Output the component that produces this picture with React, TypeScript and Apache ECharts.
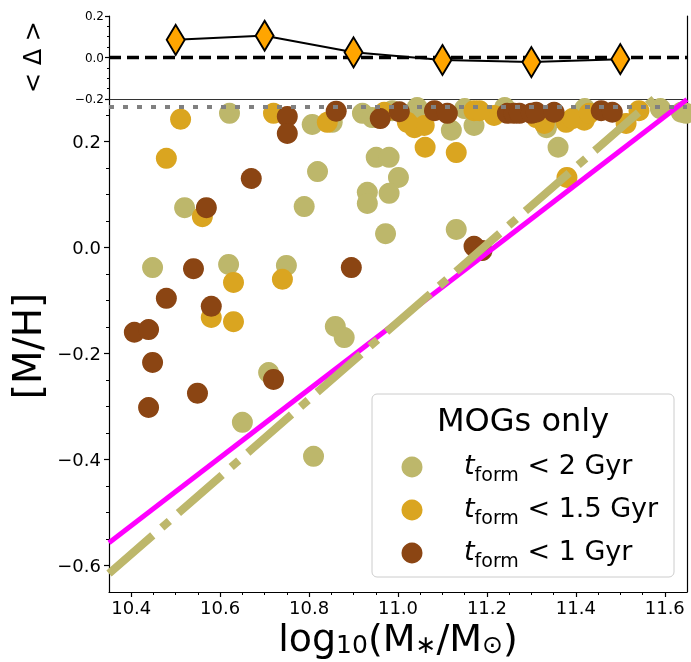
import React, { useEffect, useRef } from "react";
import * as echarts from "echarts";

// ---------- data ----------
const oliveAll: number[][] = [
  [10.621, 0.253], [10.807, 0.232], [10.819, 0.143], [10.52, 0.075], [10.789, 0.077],
  [10.448, -0.038], [10.619, -0.032], [10.749, -0.034], [10.951, 0.17], [10.98, 0.17],
  [11.001, 0.132], [10.931, 0.104], [10.931, 0.083], [10.98, 0.102], [10.972, 0.026],
  [10.92, 0.253], [10.942, 0.245], [10.852, 0.236], [10.859, -0.149], [10.879, -0.17],
  [10.709, -0.236], [10.65, -0.33], [10.81, -0.394], [11.36, 0.189], [11.131, 0.034],
  [11.12, 0.221], [11.171, 0.23], [10.987, 0.258], [11.043, 0.264], [11.334, 0.226],
  [11.637, 0.255], [11.648, 0.253], [11.15, 0.262], [11.24, 0.264], [11.42, 0.262],
  [11.59, 0.262],
];
const goldAll: number[][] = [
  [10.511, 0.242], [10.479, 0.168], [10.56, 0.058], [10.63, -0.066], [10.74, -0.06],
  [10.72, 0.253], [10.841, 0.236], [10.969, 0.255], [11.061, 0.189], [11.131, 0.179],
  [11.38, 0.132], [10.58, -0.132], [10.63, -0.14], [11.037, 0.226], [11.059, 0.23],
  [11.021, 0.236], [11.171, 0.258], [11.216, 0.249], [11.183, 0.258], [11.329, 0.234],
  [11.378, 0.236], [11.419, 0.24], [11.513, 0.234], [11.542, 0.258], [11.392, 0.243],
  [11.43, 0.253], [11.311, 0.245],
];
const brownAll: number[][] = [
  [10.751, 0.247], [10.751, 0.215], [10.67, 0.13], [10.569, 0.075], [10.54, -0.04],
  [10.895, -0.038], [10.861, 0.257], [10.96, 0.243], [11.003, 0.256], [10.479, -0.096],
  [10.58, -0.111], [10.407, -0.16], [10.439, -0.155], [10.448, -0.217], [10.549, -0.275],
  [10.439, -0.302], [10.72, -0.249], [11.171, 0.002], [11.189, -0.006], [11.082, 0.258],
  [11.111, 0.253], [11.246, 0.253], [11.261, 0.253], [11.273, 0.253], [11.3, 0.253],
  [11.311, 0.255], [11.351, 0.255], [11.457, 0.258], [11.482, 0.255],
];
const magentaLine: number[][] = [[10.35, -0.557], [11.65, 0.279]];
const oliveFit: number[][] = [[10.35, -0.615], [11.576, 0.28]];
const dottedLevel: number[][] = [[10.35, 0.265], [11.65, 0.265]];
const deltaX: number[] = [10.5, 10.7, 10.9, 11.1, 11.3, 11.5];
const deltaY: number[] = [0.085, 0.105, 0.025, -0.012, -0.022, -0.008];
const zeroLine: number[][] = [[10.35, 0], [11.65, 0]];

const xMajor = [10.4, 10.6, 10.8, 11.0, 11.2, 11.4, 11.6];
const xMinor = [10.45, 10.5, 10.55, 10.65, 10.7, 10.75, 10.85, 10.9, 10.95, 11.05, 11.1, 11.15, 11.25, 11.3, 11.35, 11.45, 11.5, 11.55];
const yMajor = [-0.6, -0.4, -0.2, 0.0, 0.2];
const yMinor = [-0.55, -0.5, -0.45, -0.35, -0.3, -0.25, -0.15, -0.1, -0.05, 0.05, 0.1, 0.15, 0.25];
const topMajor = [-0.2, 0.0, 0.2];
const topMinor = [-0.15, -0.1, -0.05, 0.05, 0.1, 0.15];
const legendNames = ["2", "1.5", "1"];

const OLIVE = "#BDB76B";
const GOLD = "#DAA520";
const BROWN = "#8B4513";
const FONT = "DejaVu Sans";

const fmt = (v: number) => v.toFixed(1).replace("-", "\u2212");

export default function App() {
  const ref = useRef<HTMLDivElement>(null);
  useEffect(() => {
    if (!ref.current) return;
    const chart = echarts.init(ref.current, undefined, { renderer: "svg" });
    const X0 = 10.35, X1 = 11.65;
    const hidden = { show: false };
    const baseX = (grid: number, extra: any) => ({
      type: "value", gridIndex: grid, min: X0, max: X1,
      splitLine: hidden, axisLabel: hidden, axisTick: hidden,
      axisLine: { show: false, onZero: false }, ...extra,
    });
    const baseY = (grid: number, min: number, max: number, extra: any) => ({
      type: "value", gridIndex: grid, min, max,
      splitLine: hidden, axisLabel: hidden, axisTick: hidden,
      axisLine: { show: false, onZero: false }, ...extra,
    });
    const legendY = [467, 510, 553];
    const colors = [OLIVE, GOLD, BROWN];
    const graphics: any[] = [
      {
        type: "rect", z: 100, shape: { x: 372, y: 394, width: 302, height: 183, r: 5 },
        style: { fill: "rgba(255,255,255,0.85)", stroke: "#cccccc", lineWidth: 1 },
      },
      {
        type: "text", z: 101, x: 523, y: 420,
        style: { text: "MOGs only", fontFamily: FONT, fontSize: 32, fill: "#000", align: "center", verticalAlign: "middle" },
      },
      {
        type: "text", z: 101, x: 398, y: 619,
        style: {
          text: "{a|log}{s|10}{a|(M}{s|\u2217}{a|/M}{s|\u2299}{a|)}",
          align: "center", verticalAlign: "top",
          rich: {
            a: { fontFamily: FONT, fontSize: 38, lineHeight: 37, fill: "#000", verticalAlign: "top" },
            s: { fontFamily: FONT, fontSize: 25, lineHeight: 24, fill: "#000", padding: [13, 0, 0, 0], verticalAlign: "top" },
          },
        },
      },
      {
        type: "text", z: 101, x: 27, y: 346, rotation: Math.PI / 2,
        style: { text: "[M/H]", fontFamily: FONT, fontSize: 39, fill: "#000", align: "center", verticalAlign: "middle" },
      },
      {
        type: "text", z: 101, x: 33, y: 57, rotation: Math.PI / 2,
        style: { text: "< \u0394 >", fontFamily: FONT, fontSize: 24, fill: "#000", align: "center", verticalAlign: "middle" },
      },
    ];
    legendNames.forEach((n, i) => {
      graphics.push({
        type: "circle", z: 101, shape: { cx: 412, cy: legendY[i], r: 10.5 },
        style: { fill: colors[i] },
      });
      graphics.push({
        type: "text", z: 101, x: 464, y: legendY[i],
        style: {
          text: `{t|t}{s|form}{a| < ${n} Gyr}`,
          verticalAlign: "middle",
          rich: {
            t: { fontFamily: FONT, fontStyle: "italic", fontSize: 27, fill: "#000", padding: [0, 0, 6, 0], verticalAlign: "bottom" },
            s: { fontFamily: FONT, fontSize: 19, fill: "#000", verticalAlign: "bottom" },
            a: { fontFamily: FONT, fontSize: 27, fill: "#000", padding: [0, 0, 6, 0], verticalAlign: "bottom" },
          },
        },
      });
    });

    chart.setOption({
      animation: false,
      grid: [
        { left: 109, right: 4, top: 16, height: 83, show: false },
        { left: 109, right: 4, top: 99, bottom: 70, show: false },
      ],
      xAxis: [
        baseX(0, {}),
        baseX(1, {
          position: "bottom",
          axisLine: { show: true, onZero: false, lineStyle: { color: "#000", width: 1.2 } },
          axisTick: { show: true, customValues: xMajor, length: 5, lineStyle: { color: "#000", width: 1.2 } },
          axisLabel: { show: true, customValues: xMajor, formatter: fmt, fontFamily: FONT, fontSize: 18, color: "#000", margin: 6 },
        }),
        baseX(1, {
          position: "bottom",
          axisTick: { show: true, customValues: xMinor, length: 3, lineStyle: { color: "#000", width: 1 } },
        }),
        baseX(1, {
          position: "top",
          axisLine: { show: true, onZero: false, lineStyle: { color: "#333", width: 1.2 } },
        }),
      ],
      yAxis: [
        baseY(0, -0.2, 0.2, {
          position: "left",
          axisLine: { show: true, onZero: false, lineStyle: { color: "#000", width: 1.2 } },
          axisTick: { show: true, customValues: topMajor, length: 4, lineStyle: { color: "#000", width: 1.2 } },
          axisLabel: { show: true, customValues: topMajor, formatter: fmt, fontFamily: FONT, fontSize: 12, color: "#000", margin: 5 },
        }),
        baseY(0, -0.2, 0.2, {
          position: "left",
          axisTick: { show: true, customValues: topMinor, length: 2, lineStyle: { color: "#000", width: 1 } },
        }),
        baseY(0, -0.2, 0.2, {
          position: "right",
          axisLine: { show: true, onZero: false, lineStyle: { color: "#000", width: 1.2 } },
        }),
        baseY(1, -0.65, 0.28, {
          position: "left",
          axisLine: { show: true, onZero: false, lineStyle: { color: "#000", width: 1.2 } },
          axisTick: { show: true, customValues: yMajor, length: 5, lineStyle: { color: "#000", width: 1.2 } },
          axisLabel: { show: true, customValues: yMajor, formatter: fmt, fontFamily: FONT, fontSize: 18, color: "#000", margin: 8 },
        }),
        baseY(1, -0.65, 0.28, {
          position: "left",
          axisTick: { show: true, customValues: yMinor, length: 3, lineStyle: { color: "#000", width: 1 } },
        }),
        baseY(1, -0.65, 0.28, {
          position: "right",
          axisLine: { show: true, onZero: false, lineStyle: { color: "#000", width: 1.2 } },
        }),
      ],
      series: [
        { type: "scatter", xAxisIndex: 1, yAxisIndex: 3, data: oliveAll, symbolSize: 21, itemStyle: { color: OLIVE, opacity: 1 }, z: 2 },
        { type: "scatter", xAxisIndex: 1, yAxisIndex: 3, data: goldAll, symbolSize: 21, itemStyle: { color: GOLD, opacity: 1 }, z: 2 },
        { type: "scatter", xAxisIndex: 1, yAxisIndex: 3, data: brownAll, symbolSize: 21, itemStyle: { color: BROWN, opacity: 1 }, z: 2 },
        { type: "line", xAxisIndex: 1, yAxisIndex: 3, data: magentaLine, showSymbol: false, symbol: "none", lineStyle: { color: "#FF00FF", width: 5 }, z: 3 },
        { type: "line", xAxisIndex: 1, yAxisIndex: 3, data: oliveFit, showSymbol: false, symbol: "none", lineStyle: { color: OLIVE, width: 8, type: [58, 12, 10, 12], cap: "butt" }, z: 4 },
        { type: "line", xAxisIndex: 1, yAxisIndex: 3, data: dottedLevel, showSymbol: false, symbol: "none", lineStyle: { color: "#808080", width: 4, type: [5, 9], cap: "butt" }, z: 5 },
        { type: "line", xAxisIndex: 0, yAxisIndex: 0, data: zeroLine, showSymbol: false, symbol: "none", lineStyle: { color: "#000", width: 3.5, type: [12, 6], cap: "butt" }, z: 5 },
        {
          type: "line", xAxisIndex: 0, yAxisIndex: 0, data: deltaX.map((x, i) => [x, deltaY[i]]),
          symbol: "diamond", symbolSize: [18, 30], lineStyle: { color: "#000", width: 2 },
          itemStyle: { color: "#FFA500", borderColor: "#000", borderWidth: 2 }, z: 6,
        },
      ],
      graphic: graphics,
    });
    return () => chart.dispose();
  }, []);
  return <div ref={ref} style={{ position: "fixed", left: 0, top: 0, width: 691, height: 662 }} />;
}
